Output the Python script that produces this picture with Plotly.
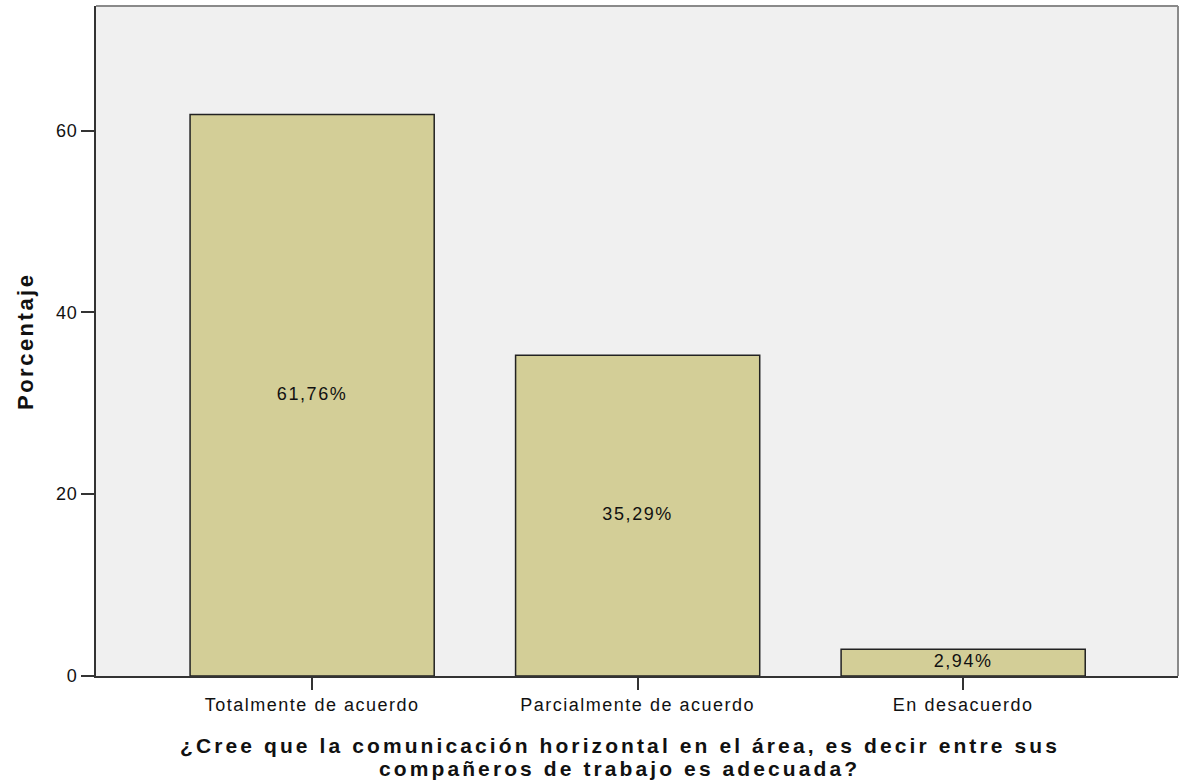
import plotly.graph_objects as go

categories = ["Totalmente de acuerdo", "Parcialmente de acuerdo", "En desacuerdo"]
values = [61.76, 35.29, 2.94]
y_ticks = [0, 20, 40, 60]
x_title_lines = ["¿Cree que la comunicación horizontal en el área, es decir entre sus",
                 "compañeros de trabajo es adecuada?"]
y_title = "Porcentaje"

FONT = "Liberation Sans, Arial, sans-serif"


def spaced(txt, px):
    return f'<span style="letter-spacing:{px}px">{txt}</span>'


labels = [spaced(f"{v:.2f}".replace(".", ",") + "%", 1.6) for v in values]

fig = go.Figure()
fig.add_trace(go.Bar(
    x=list(range(len(categories))), y=values, width=0.75,
    marker=dict(color="#D3CE97", line=dict(color="#222222", width=1.5)),
    hoverinfo="skip", showlegend=False,
))
fig.add_trace(go.Scatter(
    x=list(range(len(categories))), y=[v / 2 for v in values],
    mode="text", text=labels, textposition="middle center",
    textfont=dict(family=FONT, size=18, color="#111111"),
    hoverinfo="skip", showlegend=False,
))

fig.update_layout(
    width=1179, height=784,
    margin=dict(l=96, r=1, t=6, b=108),
    paper_bgcolor="white", plot_bgcolor="#F0F0F0",
    font=dict(family=FONT, size=18, color="#111111"),
    xaxis=dict(
        range=[-0.664, 2.66], tickmode="array",
        tickvals=list(range(len(categories))),
        ticktext=[spaced(c, 1.5) for c in categories],
        ticks="outside", ticklen=12, tickwidth=1.5, tickcolor="#333333",
        showline=True, linecolor="#333333", linewidth=1.5,
        showgrid=False, zeroline=False,
        tickfont=dict(family=FONT, size=18, color="#111111"),
    ),
    yaxis=dict(
        range=[0, 73.7], tickmode="array", tickvals=y_ticks,
        ticktext=[spaced(str(t), 0.8) for t in y_ticks],
        ticks="outside", ticklen=13, tickwidth=1.5, tickcolor="#333333",
        showline=True, linecolor="#333333", linewidth=1.5,
        showgrid=False, zeroline=False,
        tickfont=dict(family=FONT, size=18, color="#111111"),
    ),
)

# top and right frame lines
fig.add_shape(type="line", xref="paper", yref="paper", x0=0, x1=1, y0=1, y1=1,
              line=dict(color="#8a8a8a", width=2))
fig.add_shape(type="line", xref="paper", yref="paper", x0=1, x1=1, y0=0, y1=1,
              line=dict(color="#8a8a8a", width=2))

fig.add_annotation(text=spaced(y_title, 2.5), xref="paper", yref="paper", x=-0.0656, y=0.5,
                   textangle=-90, showarrow=False, xanchor="center", yanchor="middle",
                   font=dict(family=FONT, size=22, color="#111111", weight="bold"))
for line, yy in zip(x_title_lines, [-0.1030, -0.1388]):
    fig.add_annotation(text=spaced(line, 3.1), xref="paper", yref="paper", x=0.484, y=yy,
                       showarrow=False, xanchor="center", yanchor="middle",
                       font=dict(family=FONT, size=21, color="#111111", weight="bold"))

fig.write_html("out.html", config={"displayModeBar": False},
               post_script="document.body.style.margin='0';document.body.style.padding='0';")
